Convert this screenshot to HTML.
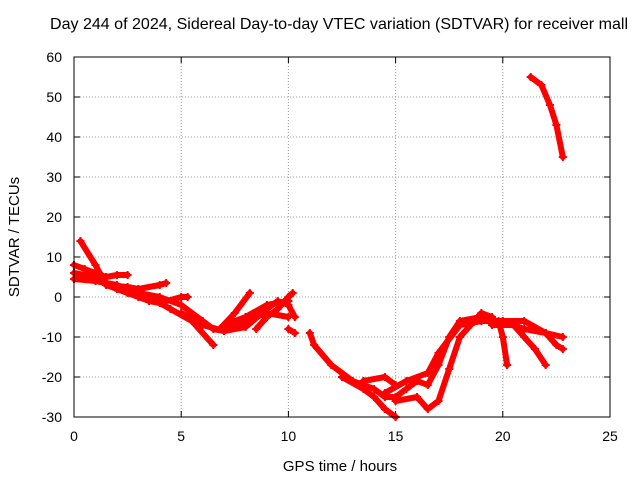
<!DOCTYPE html>
<html><head><meta charset="utf-8"><style>
body{margin:0;background:#fff;}
svg{display:block;font-family:"Liberation Sans",sans-serif;}
</style></head><body>
<svg id="chart" width="640" height="480">
<rect width="640" height="480" fill="#fff"/>
<text x="339" y="29" text-anchor="middle" font-size="16" textLength="578" lengthAdjust="spacingAndGlyphs">Day 244 of 2024, Sidereal Day-to-day VTEC variation (SDTVAR) for receiver mall</text>
<text x="340" y="471" text-anchor="middle" font-size="15">GPS time / hours</text>
<text transform="translate(19,237) rotate(-90)" text-anchor="middle" font-size="15">SDTVAR / TECUs</text>
<g id="grid"></g><g id="marks"></g>
<rect x="74" y="57" width="536" height="360" fill="none" stroke="#000"/>
</svg>
<script>
const xTicks=[0,5,10,15,20,25];
const yTicks=[-30,-20,-10,0,10,20,30,40,50,60];
const t1=[[0,8],[0.5,7],[1,6],[1.5,5],[2,5.5],[2.5,5.5]];
const t2=[[0,4.5],[1,4],[2,3],[3,1],[4,0],[5,-2],[6,-6],[6.5,-8],[7,-8.5],[8,-6],[9,-4],[10,-5]];
const t3=[[0.3,14],[1,8],[1.5,3],[2.5,1],[3.5,0],[4.5,-3],[5.5,-6],[6.5,-12]];
const t4=[[0,6],[1,5],[2,2],[3,0],[3.5,-1],[4,-1.5],[5,0],[5.3,0]];
const t5=[[1.5,3],[2.5,2.5],[3,2],[4,3],[4.3,3.5]];
const t6=[[5,-4],[6,-7],[7,-8.5],[8,-7.5],[9,-3],[9.5,-1],[10,-2],[10.3,-5]];
const t7=[[6.8,-8],[7.5,-4],[8.2,1]];
const t8=[[7,-7],[8,-5],[9,-2],[10,-1]];
const t9=[[8.5,-8],[9,-5],[9.5,-3],[10,0],[10.2,1]];
const t10=[[10,-8],[10.3,-9]];
const t11=[[11,-9],[11.2,-12],[12,-17],[13,-21],[14,-23],[14.5,-25],[15,-25],[15.5,-23],[16,-21],[16.5,-22],[17,-17],[17.5,-10],[18,-6],[19,-5],[19.5,-6],[20,-6],[21,-8],[22,-9],[22.8,-10]];
const t12=[[12.5,-20],[13.5,-23],[14,-25],[14.5,-28],[15,-30]];
const t13=[[13.5,-21],[14.5,-20],[15,-22]];
const t14=[[14.5,-24],[15.5,-21],[16.5,-19],[17,-14],[18,-7],[19,-6],[19.8,-6],[20,-10],[20.2,-17]];
const t15=[[15,-26],[16,-25],[16.5,-28],[17,-26],[17.5,-18],[18,-10],[18.5,-7],[19,-4],[19.5,-5]];
const t16=[[19.5,-7],[20.5,-7],[21,-10],[21.5,-13],[22,-17]];
const t17=[[20,-6],[21,-6],[22,-9],[22.5,-12],[22.8,-13]];
const t18=[[21.3,55],[21.8,53],[22.2,48],[22.5,43],[22.8,35]];
const tracks=[t1,t2,t3,t4,t5,t6,t7,t8,t9,t10,t11,t12,t13,t14,t15,t16,t17,t18];
const X=v=>74+v*536/25, Y=v=>417-(v+30)*4;
const NS="http://www.w3.org/2000/svg";
const grid=document.getElementById('grid'), marks=document.getElementById('marks');
function mk(tag,a,p){const e=document.createElementNS(NS,tag);for(const k in a)e.setAttribute(k,a[k]);p.appendChild(e);return e;}
xTicks.forEach(v=>{
 if(v>0&&v<25){const l=mk('line',{x1:X(v),x2:X(v),y1:57,y2:417,stroke:'#999','stroke-dasharray':'1,2'},grid);
 
 }
 mk('line',{x1:X(v),x2:X(v),y1:417,y2:411,stroke:'#000'},grid);
 mk('line',{x1:X(v),x2:X(v),y1:57,y2:63,stroke:'#000'},grid);
 const t=mk('text',{x:X(v),y:441,'text-anchor':'middle','font-size':14},grid);t.textContent=v;
 
 
});
yTicks.forEach(v=>{
 if(v>-30&&v<60){const l=mk('line',{x1:74,x2:610,y1:Y(v),y2:Y(v),stroke:'#999','stroke-dasharray':'1,2'},grid);
 
 }
 mk('line',{x1:74,x2:80,y1:Y(v),y2:Y(v),stroke:'#000'},grid);
 mk('line',{x1:604,x2:610,y1:Y(v),y2:Y(v),stroke:'#000'},grid);
 const t=mk('text',{x:62,y:Y(v)+5,'text-anchor':'end','font-size':14},grid);t.textContent=v;
 
 
});
tracks.forEach((tr,i)=>{
 const p=mk('polyline',{points:tr.map(d=>X(d[0])+','+Y(d[1])).join(' '),fill:'none',stroke:'#f00','stroke-width':6,'stroke-linejoin':'round','stroke-linecap':'round'},marks);
 
 
 tr.forEach(d=>{
  const m=mk('path',{d:`M${X(d[0])-4},${Y(d[1])}h8M${X(d[0])},${Y(d[1])-4}v8`,stroke:'#f00','stroke-width':2},marks);
  
  
 });
});
</script>
</body></html>
